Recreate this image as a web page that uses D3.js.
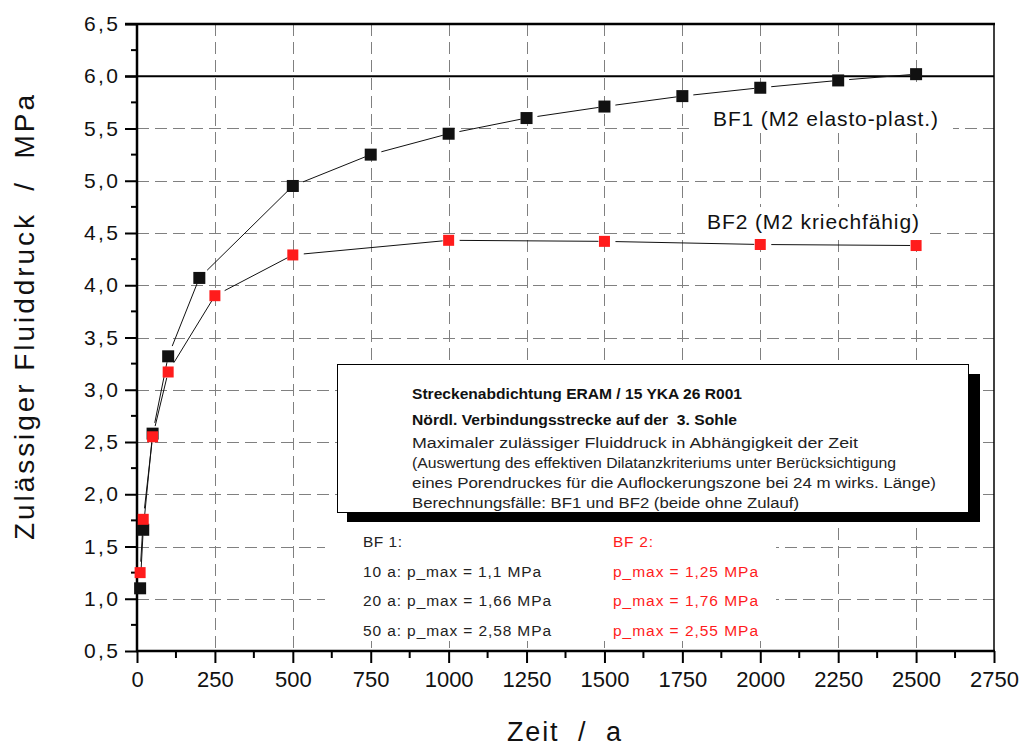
<!DOCTYPE html>
<html><head><meta charset="utf-8">
<script src="https://cdn.jsdelivr.net/npm/d3@7"></script>
<style>
body{margin:0;background:#fff}
svg{display:block;font-family:"Liberation Sans",Arial,sans-serif}
svg text{white-space:pre}
</style>
</head><body>
<svg id="chart" width="1026" height="746"></svg>
<script>
// ---- data ----
const timeBF1 = [10, 20, 50, 100, 200, 500, 750, 1000, 1250, 1500, 1750, 2000, 2250, 2500];
const valueBF1 = [1.10, 1.66, 2.58, 3.32, 4.07, 4.95, 5.25, 5.45, 5.60, 5.71, 5.81, 5.89, 5.96, 6.02];
const timeBF2 = [10, 20, 50, 100, 250, 500, 1000, 1500, 2000, 2500];
const valueBF2 = [1.25, 1.76, 2.55, 3.17, 3.90, 4.29, 4.43, 4.42, 4.39, 4.38];
const limitValue = 6.0;
const xTickValues = [0, 250, 500, 750, 1000, 1250, 1500, 1750, 2000, 2250, 2500, 2750];
const yTickValues = [0.5, 1.0, 1.5, 2.0, 2.5, 3.0, 3.5, 4.0, 4.5, 5.0, 5.5, 6.0, 6.5];
const seriesNames = ["BF1 (M2 elasto-plast.)", "BF2 (M2 kriechfähig)"];
const xTitle = "Zeit  /  a";
const yTitle = "Zulässiger Fluiddruck  /  MPa";
const boxLines = [
  "Streckenabdichtung ERAM / 15 YKA 26 R001",
  "Nördl. Verbindungsstrecke auf der  3. Sohle",
  "Maximaler zulässiger Fluiddruck in Abhängigkeit der Zeit",
  "(Auswertung des effektiven Dilatanzkriteriums unter Berücksichtigung",
  "eines Porendruckes für die Auflockerungszone bei 24 m wirks. Länge)",
  "Berechnungsfälle: BF1 und BF2 (beide ohne Zulauf)"
];
const notesBF1 = ["BF 1:", "10 a: p_max = 1,1 MPa", "20 a: p_max = 1,66 MPa", "50 a: p_max = 2,58 MPa"];
const notesBF2 = ["BF 2:", "p_max = 1,25 MPa", "p_max = 1,76 MPa", "p_max = 2,55 MPa"];

// ---- layout ----
const svg = d3.select("#chart");
const L = 137, R = 994, T = 24, B = 651;
const x = d3.scaleLinear().domain([0, 2750]).range([L, R]);
const y = d3.scaleLinear().domain([0.5, 6.5]).range([B, T]);
const loc = d3.formatLocale({decimal: ",", thousands: "", grouping: [3], currency: ["", ""]});
const fy = loc.format(".1f");
const RED = "#ff1c1c";

svg.append("rect").attr("width", 1026).attr("height", 746).attr("fill", "#fff");

// grid
const grid = svg.append("g").attr("stroke", "#808080").attr("stroke-width", 1).attr("stroke-dasharray", "12,6");
grid.selectAll("line.v").data(xTickValues.filter(d => d > 0 && d < 2750)).join("line")
  .attr("x1", d => Math.round(x(d)) + 0.5).attr("x2", d => Math.round(x(d)) + 0.5)
  .attr("y1", T).attr("y2", B);
grid.selectAll("line.h").data(yTickValues.filter(d => d > 0.5 && d < limitValue)).join("line")
  .attr("y1", d => Math.round(y(d)) + 0.5).attr("y2", d => Math.round(y(d)) + 0.5)
  .attr("x1", L).attr("x2", R);

// white backgrounds for text blocks
svg.append("rect").attr("x", 325).attr("y", 522).attr("width", 451).attr("height", 119).attr("fill", "#fff");
svg.append("rect").attr("x", 693).attr("y", 82).attr("width", 260).attr("height", 51).attr("fill", "#fff");
svg.append("rect").attr("x", 685).attr("y", 207).attr("width", 245).attr("height", 30).attr("fill", "#fff");

// annotation box with shadow
svg.append("rect").attr("x", 347).attr("y", 374).attr("width", 633).attr("height", 148).attr("fill", "#000");
svg.append("rect").attr("x", 337.5).attr("y", 364.5).attr("width", 631).attr("height", 148)
  .attr("fill", "#fff").attr("stroke", "#000").attr("stroke-width", 1);

const boxBase = [399, 425, 448, 468, 488, 508];
const boxLen = [330, 325, 446, 484, 524, 387];
svg.append("g").selectAll("text").data(boxLines).join("text")
  .attr("x", 412).attr("y", (d, i) => boxBase[i])
  .attr("font-size", (d, i) => i < 2 ? 14.5 : 14)
  .attr("font-weight", (d, i) => i < 2 ? "bold" : "normal")
  .attr("fill", (d, i) => i < 2 ? "#111" : "#222")
  .attr("textLength", (d, i) => boxLen[i]).attr("lengthAdjust", "spacingAndGlyphs")
  .text(d => d);

const noteBase = [547, 577, 606, 636];
const note1Len = [39, 178, 188, 188];
const note2Len = [40, 145, 145, 145];
svg.append("g").selectAll("text").data(notesBF1).join("text")
  .attr("x", 363).attr("y", (d, i) => noteBase[i]).attr("font-size", 15.5).attr("fill", "#222")
  .attr("textLength", (d, i) => note1Len[i]).attr("lengthAdjust", "spacing").text(d => d);
svg.append("g").selectAll("text").data(notesBF2).join("text")
  .attr("x", 613).attr("y", (d, i) => noteBase[i]).attr("font-size", 15.5).attr("fill", RED)
  .attr("textLength", (d, i) => note2Len[i]).attr("lengthAdjust", "spacing").text(d => d);

// limit line at 6.0
svg.append("line").attr("x1", 125).attr("x2", R).attr("y1", y(limitValue)).attr("y2", y(limitValue))
  .attr("stroke", "#000").attr("stroke-width", 2);

// axes
const yAxis = d3.axisLeft(y).tickValues(yTickValues).tickSize(12).tickPadding(7).tickFormat(fy);
const gy = svg.append("g").attr("transform", `translate(${L},0)`).call(yAxis);
gy.select(".domain").remove();
gy.selectAll(".tick line").attr("stroke", "#000").attr("stroke-width", 2);
gy.selectAll(".tick text").attr("font-size", 21).attr("fill", "#111")
  .attr("font-family", "Liberation Sans, Arial, sans-serif")
  .attr("textLength", 34).attr("lengthAdjust", "spacing");
const yMinor = d3.range(0.75, 6.5, 0.5);
svg.append("g").selectAll("line").data(yMinor).join("line")
  .attr("x1", L - 6).attr("x2", L).attr("y1", d => y(d)).attr("y2", d => y(d))
  .attr("stroke", "#000").attr("stroke-width", 2);

const xAxis = d3.axisBottom(x).tickValues(xTickValues).tickSize(12).tickPadding(8).tickFormat(d3.format("d"));
const gx = svg.append("g").attr("transform", `translate(0,${B})`).call(xAxis);
gx.select(".domain").remove();
gx.selectAll(".tick line").attr("stroke", "#000").attr("stroke-width", 2);
gx.selectAll(".tick text").attr("font-size", 22).attr("fill", "#111")
  .attr("font-family", "Liberation Sans, Arial, sans-serif");
const xMinor = d3.range(125, 2750, 250);
svg.append("g").selectAll("line").data(xMinor).join("line")
  .attr("y1", B).attr("y2", B + 7).attr("x1", d => x(d)).attr("x2", d => x(d))
  .attr("stroke", "#000").attr("stroke-width", 2);

// frame
svg.append("line").attr("x1", L).attr("x2", L).attr("y1", T - 1).attr("y2", B + 1).attr("stroke", "#000").attr("stroke-width", 2.5);
svg.append("line").attr("x1", L - 1).attr("x2", R + 1).attr("y1", B).attr("y2", B).attr("stroke", "#000").attr("stroke-width", 2.5);
svg.append("line").attr("x1", 125).attr("x2", R + 1).attr("y1", T).attr("y2", T).attr("stroke", "#000").attr("stroke-width", 2.5);
svg.append("line").attr("x1", R).attr("x2", R).attr("y1", T).attr("y2", B).attr("stroke", "#000").attr("stroke-width", 1.5);

// series lines with gaps near markers
function segments(ts, vs) {
  const pts = ts.map((t, i) => [x(t), y(vs[i])]);
  const segs = [];
  for (let i = 0; i < pts.length - 1; i++) {
    const [x1, y1] = pts[i], [x2, y2] = pts[i + 1];
    const len = Math.hypot(x2 - x1, y2 - y1);
    const a = 11, b = 6;
    if (len <= a + b + 2) continue;
    const ux = (x2 - x1) / len, uy = (y2 - y1) / len;
    segs.push([x1 + ux * a, y1 + uy * a, x2 - ux * b, y2 - uy * b]);
  }
  return segs;
}
function drawSeries(ts, vs, color, size) {
  svg.append("g").selectAll("line").data(segments(ts, vs)).join("line")
    .attr("x1", d => d[0]).attr("y1", d => d[1]).attr("x2", d => d[2]).attr("y2", d => d[3])
    .attr("stroke", "#111").attr("stroke-width", 1);
  svg.append("g").selectAll("rect").data(ts.map((t, i) => [t, vs[i]])).join("rect")
    .attr("x", d => x(d[0]) - size / 2).attr("y", d => y(d[1]) - size / 2)
    .attr("width", size).attr("height", size).attr("fill", color);
}
drawSeries(timeBF1, valueBF1, "#111", 12);
drawSeries(timeBF2, valueBF2, RED, 11);

// series labels
svg.append("text").attr("x", 713).attr("y", 126).attr("font-size", 21).attr("fill", "#111")
  .attr("textLength", 225).attr("lengthAdjust", "spacing").text(seriesNames[0]);
svg.append("text").attr("x", 707).attr("y", 229).attr("font-size", 21).attr("fill", "#111")
  .attr("textLength", 212).attr("lengthAdjust", "spacing").text(seriesNames[1]);

// axis titles
svg.append("text").attr("transform", "translate(34,540) rotate(-90)").attr("font-size", 28).attr("fill", "#111")
  .attr("textLength", 445).attr("lengthAdjust", "spacing").text(yTitle);
svg.append("text").attr("x", 507).attr("y", 741).attr("font-size", 27).attr("fill", "#111")
  .attr("textLength", 114).attr("lengthAdjust", "spacing").text(xTitle);
</script>
</body></html>
